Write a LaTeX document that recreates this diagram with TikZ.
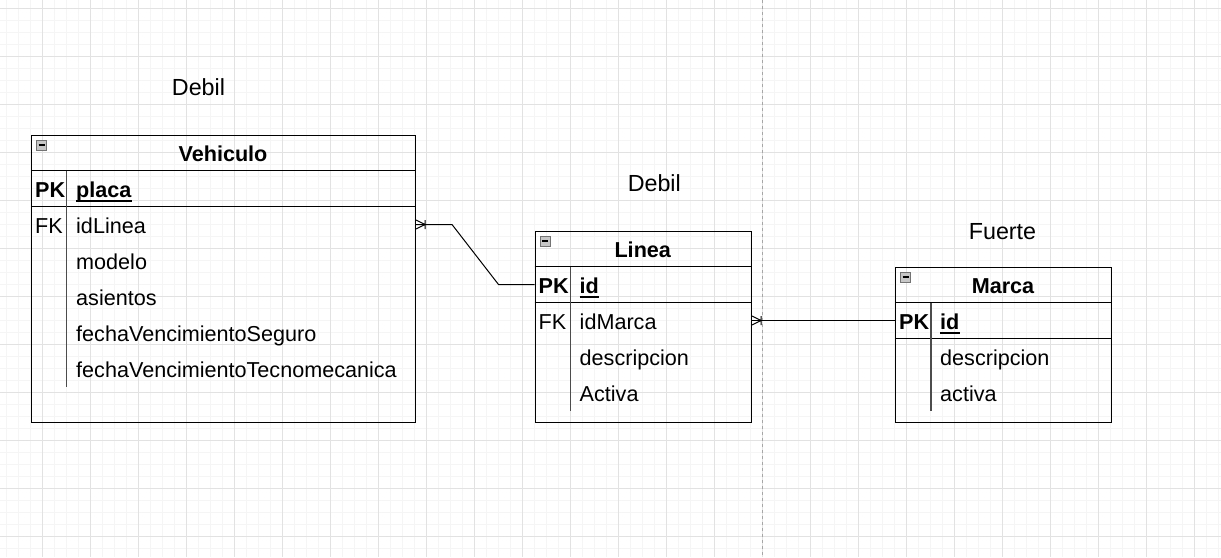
\documentclass[tikz,border=0pt]{standalone}
\usepackage{fontspec}
\setmainfont{Liberation Sans}
\definecolor{rejilla}{HTML}{E2E2E2}
\definecolor{rejillafina}{HTML}{F5F5F5}

\begin{document}
\begin{tikzpicture}[x=1pt,y=-1pt,
  tabla/.style={draw,line width=1pt,inner sep=0,anchor=north west},
  campo/.style={font=\fontsize{21.6}{24}\selectfont,inner sep=0,anchor=west,minimum height=36pt,text height=19.5pt,text depth=2.5pt},
  clave/.style={campo,font=\fontsize{21.6}{24}\selectfont\bfseries},
  titulo/.style={clave,anchor=center},
  etiqueta/.style={font=\fontsize{23.3}{26}\selectfont,inner sep=0,anchor=base},
  division/.style={draw=black!70,line width=1.5pt},
  rel/.style={line width=1pt},
  pics/muchos/.style={code={\draw[line width=1pt] (0,-4.5) -- (9,0) -- (0,4.5) (9,-4.5) -- (9,4.5);}},
  pics/plegar/.style={code={\draw[black!55,fill=black!22] (0,0) rectangle (10,10); \draw[line width=1.2pt] (2,5) -- (8,5);}}]

\fill[white] (0,0) rectangle (1221,557);
\useasboundingbox (0,0) rectangle (1221,557);
\foreach \x in {6,18,...,1218} \draw[rejillafina] (\x,0) -- (\x,557);
\foreach \y in {8,20,...,548} \draw[rejillafina] (0,\y) -- (1221,\y);
\foreach \x in {42,90,...,1194} \draw[rejilla] (\x,0) -- (\x,557);
\foreach \y in {8,56,...,536} \draw[rejilla] (0,\y) -- (1221,\y);
\draw[black!35,dash pattern=on 3pt off 3pt] (762.5,0) -- (762.5,557);

\node[etiqueta] (debilVeh) at (198.5,95.7) {Debil};
\node[etiqueta] (debilLin) at (654.3,191.7) {Debil};
\node[etiqueta] (fuerteMar) at (1002.5,239.7) {Fuerte};

\node[tabla,minimum width=384pt,minimum height=287.5pt] (veh) at (31,134.5) {};
\pic at ([xshift=5.5pt,yshift=-5.5pt]veh.north west) {plegar};
\node[titulo] (vehTit) at (223,152.5) {Vehiculo};
\draw[line width=1pt] ([yshift=-36pt]veh.north west) -- ([yshift=-36pt]veh.north east);
\draw[line width=1pt] ([yshift=-72pt]veh.north west) -- ([yshift=-72pt]veh.north east);
\draw[division] (66.5,170.5) -- ++(0,216);
\node[clave] (vehPK) at (35,188.5) {PK};
\node[clave] (vehPlaca) at (76,188.5) {placa};
\draw[line width=2pt] ([yshift=-4pt]vehPlaca.base west) -- ([yshift=-4pt]vehPlaca.base east);
\node[campo] (vehFK) at (35,224.5) {FK};
\node[campo] (vehIdLinea) at (76,224.5) {idLinea};
\node[campo] (vehModelo) at (76,260.5) {modelo};
\node[campo] (vehAsientos) at (76,296.5) {asientos};
\node[campo] (vehSeguro) at (76,332.5) {fechaVencimientoSeguro};
\node[campo] (vehTecno) at (76,368.5) {fechaVencimientoTecnomecanica};

\node[tabla,minimum width=216.5pt,minimum height=191.5pt] (lin) at (534.5,230.5) {};
\pic at ([xshift=5.5pt,yshift=-5.5pt]lin.north west) {plegar};
\node[titulo] (linTit) at (642.75,248.5) {Linea};
\draw[line width=1pt] ([yshift=-36pt]lin.north west) -- ([yshift=-36pt]lin.north east);
\draw[line width=1pt] ([yshift=-72pt]lin.north west) -- ([yshift=-72pt]lin.north east);
\draw[division] (570.5,266.5) -- ++(0,144);
\node[clave] (linPK) at (538.5,284.5) {PK};
\node[clave] (linId) at (579.5,284.5) {id};
\draw[line width=2pt] ([yshift=-4pt]linId.base west) -- ([yshift=-4pt]linId.base east);
\node[campo] (linFK) at (538.5,320.5) {FK};
\node[campo] (linIdMarca) at (579.5,320.5) {idMarca};
\node[campo] (linDesc) at (579.5,356.5) {descripcion};
\node[campo] (linActiva) at (579.5,392.5) {Activa};

\node[tabla,minimum width=216pt,minimum height=155.5pt] (mar) at (895,266.5) {};
\pic at ([xshift=5.5pt,yshift=-5.5pt]mar.north west) {plegar};
\node[titulo] (marTit) at (1003,284.5) {Marca};
\draw[line width=1pt] ([yshift=-36pt]mar.north west) -- ([yshift=-36pt]mar.north east);
\draw[line width=1pt] ([yshift=-72pt]mar.north west) -- ([yshift=-72pt]mar.north east);
\draw[division] (931,302.5) -- ++(0,108);
\node[clave] (marPK) at (899,320.5) {PK};
\node[clave] (marId) at (940,320.5) {id};
\draw[line width=2pt] ([yshift=-4pt]marId.base west) -- ([yshift=-4pt]marId.base east);
\node[campo] (marDesc) at (940,356.5) {descripcion};
\node[campo] (marActiva) at (940,392.5) {activa};

\draw[rel] (veh.east |- vehIdLinea) -- ++(36,0) -- ([xshift=-36pt]lin.west |- linId) -- (lin.west |- linId);
\pic at (veh.east |- vehIdLinea) {muchos};
\draw[rel] (lin.east |- linIdMarca) -- (mar.west |- marId);
\pic at (lin.east |- linIdMarca) {muchos};
\end{tikzpicture}
\end{document}
